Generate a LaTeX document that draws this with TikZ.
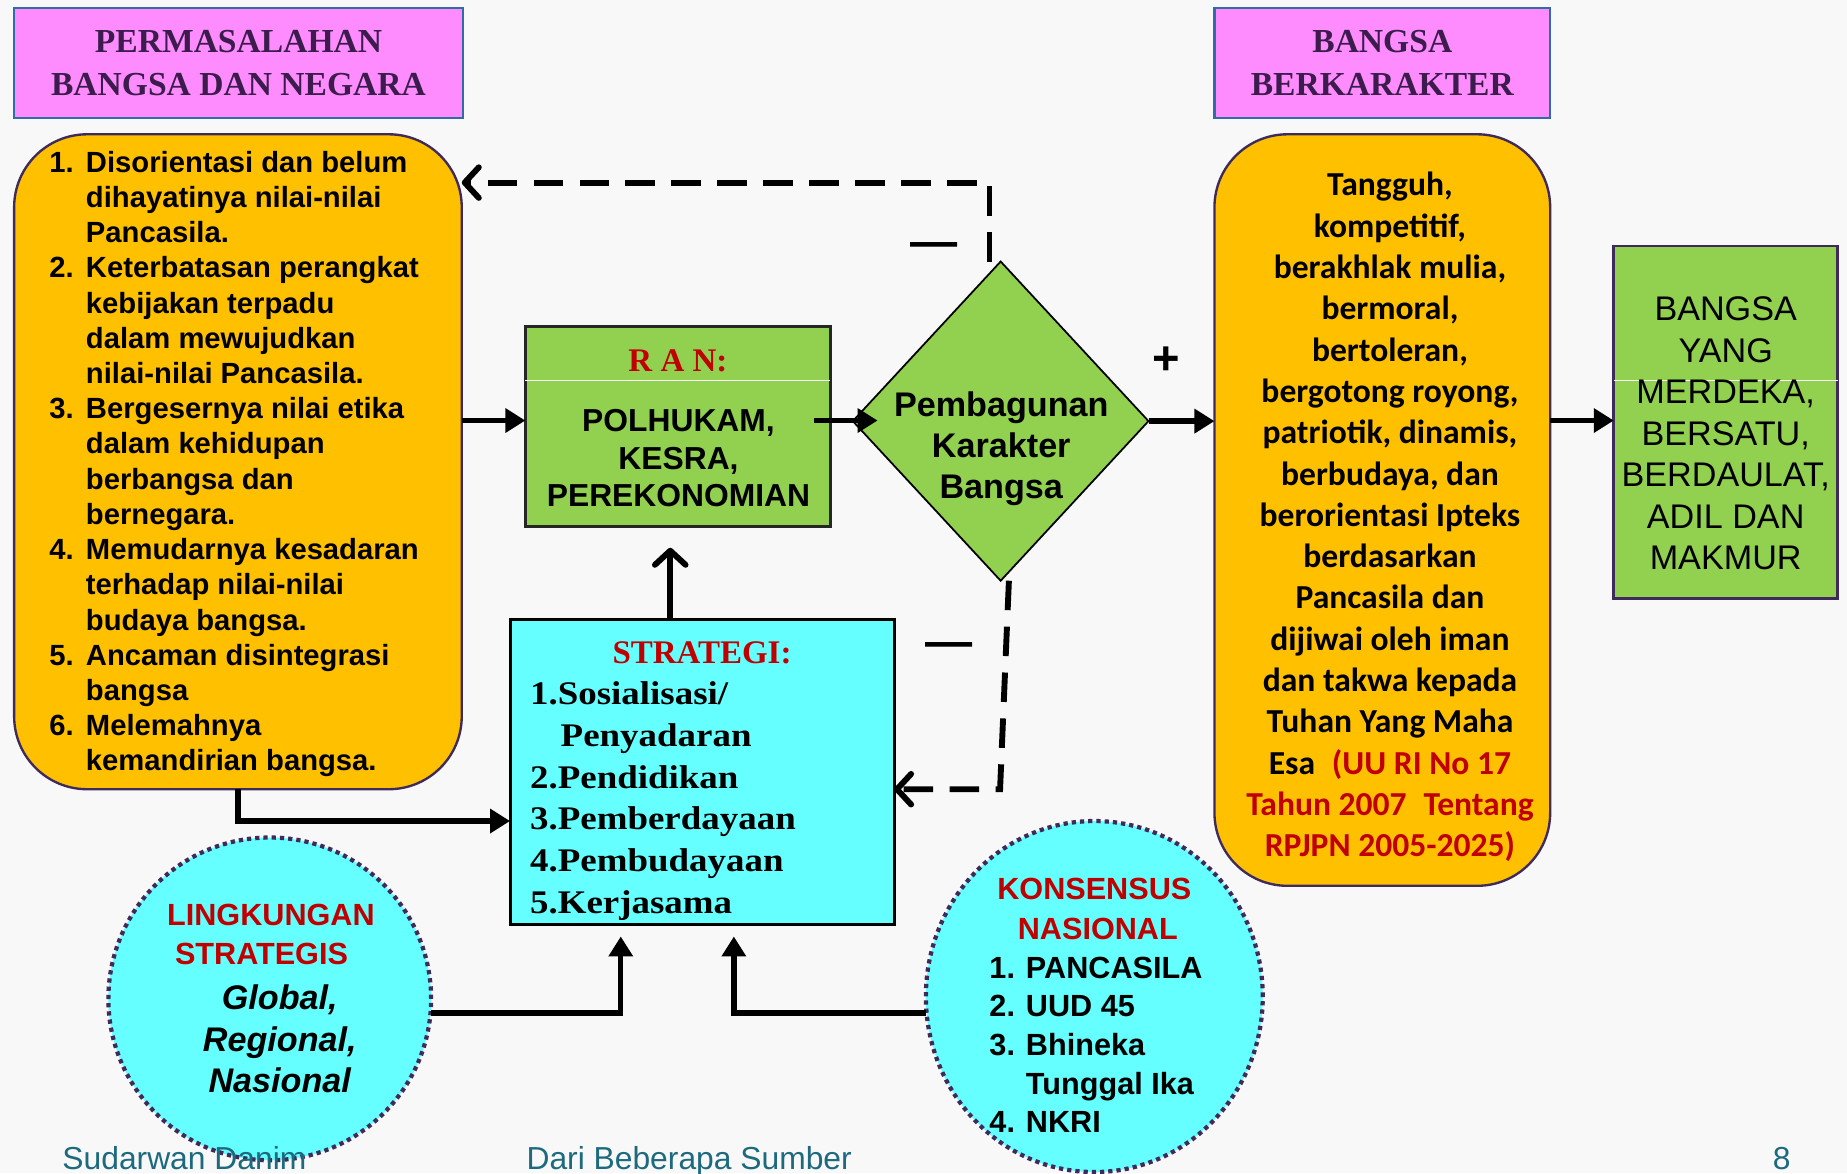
\documentclass[tikz,border=0pt]{standalone}
\usepackage{fontspec}
\setmainfont{Liberation Serif}
\setsansfont{Liberation Sans}
\newfontfamily\calib{Carlito}
\newfontfamily\serifwide[FakeStretch=1.12]{Liberation Serif}
\usetikzlibrary{arrows.meta,shapes.geometric,calc}

\definecolor{pagebg}{HTML}{F8F8F8}
\definecolor{pinkfill}{HTML}{FF8CFF}
\definecolor{pinkedge}{HTML}{2F6EA5}
\definecolor{titletext}{HTML}{3B1C4C}
\definecolor{orangefill}{HTML}{FFC000}
\definecolor{purpleedge}{HTML}{3F2B5B}
\definecolor{greenfill}{HTML}{92D050}
\definecolor{cyanfill}{HTML}{66FFFF}
\definecolor{redtext}{HTML}{C00000}
\definecolor{footertext}{HTML}{1D6A7E}

\newcommand\numitem[1]{\makebox[31pt][l]{#1}}
\newcommand\contline{\hspace*{31pt}}

\begin{document}
\begin{tikzpicture}[x=1pt,y=-1pt,
  every node/.style={inner sep=0pt,outer sep=0pt},
  titlebox/.style={draw=pinkedge,line width=2pt,fill=pinkfill,text=titletext,
    font=\bfseries\fontsize{28.5}{37}\selectfont,align=center},
  roundbox/.style={draw=purpleedge,line width=2pt,fill=orangefill,rounded corners=62pt},
  greenbox/.style={fill=greenfill,line width=2.2pt},
  dotring/.style={draw=purpleedge,fill=cyanfill,line width=3.6pt,dash pattern=on 3.6pt off 3.4pt},
  flow/.style={line width=4.5pt,-{Triangle[length=17pt,width=20pt]}},
  back/.style={line width=5pt,dash pattern=on 25pt off 14pt,
    -{Straight Barb[length=12pt,width=26pt,round]}},
  upbarb/.style={line width=5pt,-{Straight Barb[length=12pt,width=26pt,round]}},
  sign/.style={font=\sffamily\bfseries\fontsize{40}{40}\selectfont},
  redhead/.style={text=redtext,font=\bfseries\fontsize{28}{34}\selectfont},
  footer/.style={text=footertext,font=\sffamily\fontsize{27}{30}\selectfont,anchor=base west}
]
\useasboundingbox (0,0) rectangle (1568,996);
\fill[pagebg] (0,0) rectangle (1568,996);

% helper levels for the connectors
\coordinate (y155) at (0,155);
\coordinate (y357) at (0,357);
\coordinate (y670) at (0,670);
\coordinate (y697) at (0,697);
\coordinate (y860) at (0,860);
\coordinate (x527) at (527,0);
\coordinate (x623) at (623,0);
\coordinate (x840) at (840,0);
\coordinate (x569) at (569,0);

% headings
\node[titlebox,minimum width=381pt,minimum height=93pt] (probtitle) at (202.5,53.5)
  {PERMASALAHAN\\BANGSA DAN NEGARA};
\node[titlebox,minimum width=285pt,minimum height=93pt] (kartitle) at (1173.5,53.5)
  {BANGSA\\BERKARAKTER};

% problems
\node[roundbox,minimum width=380pt,minimum height=556pt] (probbox) at (202,392) {};
\node[anchor=west,align=left,font=\sffamily\bfseries\fontsize{24.8}{29.9}\selectfont]
  (problist) at (42,394) {%
  \numitem{1.}Disorientasi dan belum\\
  \contline dihayatinya nilai-nilai\\
  \contline Pancasila.\\
  \numitem{2.}Keterbatasan perangkat\\
  \contline kebijakan terpadu\\
  \contline dalam mewujudkan\\
  \contline nilai-nilai Pancasila.\\
  \numitem{3.}Bergesernya nilai etika\\
  \contline dalam kehidupan\\
  \contline berbangsa dan\\
  \contline bernegara.\\
  \numitem{4.}Memudarnya kesadaran\\
  \contline terhadap nilai-nilai\\
  \contline budaya bangsa.\\
  \numitem{5.}Ancaman disintegrasi\\
  \contline bangsa\\
  \numitem{6.}Melemahnya\\
  \contline kemandirian bangsa.};

% action plan
\node[greenbox,draw=black!85,minimum width=259pt,minimum height=170pt] (ran) at (575.5,362) {};
\draw[white,line width=1pt] (ran.west |- 0,323) -- (ran.east |- 0,323);
\node[redhead] (rantitle) at (575.5,306) {R A N:};
\node[align=center,font=\sffamily\bfseries\fontsize{27}{32}\selectfont] (rantext) at (576,389)
  {POLHUKAM,\\KESRA,\\PEREKONOMIAN};

% character building
\node[diamond,draw=black,line width=1.5pt,fill=greenfill,minimum width=251pt,minimum height=271pt]
  (pkb) at (849.5,357.5) {};
\node[align=center,font=\sffamily\bfseries\fontsize{29}{35}\selectfont] (pkbtext) at (850,381)
  {Pembagunan\\Karakter\\Bangsa};

% character of the nation
\node[roundbox,minimum width=285pt,minimum height=638pt] (karbox) at (1173.5,433) {};
\node[align=center,font=\calib\bfseries\fontsize{28.5}{35.06}\selectfont] (kartext) at (1180,439)
  {Tangguh,\\kompetitif,\\berakhlak mulia,\\bermoral,\\bertoleran,\\bergotong royong,\\
   patriotik, dinamis,\\berbudaya, dan\\berorientasi Ipteks\\berdasarkan\\Pancasila dan\\
   dijiwai oleh iman\\dan takwa kepada\\Tuhan Yang Maha\\
   Esa\hspace{0.5em}{\color{redtext}(UU RI No 17}\\
   {\color{redtext}Tahun 2007\hspace{0.5em}Tentang}\\
   {\color{redtext}RPJPN 2005-2025)}};

% goal
\node[greenbox,draw=purpleedge,minimum width=190pt,minimum height=299pt] (goal) at (1465,358.5) {};
\draw[white,line width=1pt] (goal.west |- 0,323) -- (goal.east |- 0,323);
\node[align=center,font=\sffamily\fontsize{29}{35.3}\selectfont] (goaltext) at (1465,368)
  {BANGSA\\YANG\\MERDEKA,\\BERSATU,\\BERDAULAT,\\ADIL DAN\\MAKMUR};

% strategy
\node[draw=black,line width=2.5pt,fill=cyanfill,minimum width=326pt,minimum height=259pt]
  (strat) at (596,655.5) {};
\node[redhead] (strattitle) at (596,554) {STRATEGI:};
\node[anchor=west,align=left,font=\serifwide\bfseries\fontsize{28}{35.4}\selectfont]
  (stratlist) at (450,680)
  {1.Sosialisasi/\\\hspace*{26pt}Penyadaran\\2.Pendidikan\\3.Pemberdayaan\\4.Pembudayaan\\5.Kerjasama};

% strategic environment
\node[circle,dotring,minimum size=274pt] (ling) at (229,848) {};
\node[align=center,text=redtext,font=\sffamily\bfseries\fontsize{26}{33}\selectfont]
  (lingtitle) at (230,793) {LINGKUNGAN\\STRATEGIS\hspace*{16pt}};
\node[align=center,font=\sffamily\bfseries\itshape\fontsize{29}{35}\selectfont]
  (lingtext) at (237.5,882) {Global,\\Regional,\\Nasional};

% national consensus
\node[ellipse,dotring,minimum width=286pt,minimum height=298pt] (kons) at (929,846) {};
\node[align=center,text=redtext,font=\sffamily\bfseries\fontsize{26}{34}\selectfont]
  (konstitle) at (929,772) {KONSENSUS\\\hspace*{6pt}NASIONAL};
\node[anchor=west,align=left,font=\sffamily\bfseries\fontsize{26}{32.75}\selectfont]
  (konslist) at (840,887)
  {\numitem{1.}PANCASILA\\\numitem{2.}UUD 45\\\numitem{3.}Bhineka\\\contline Tunggal Ika\\\numitem{4.}NKRI};

% main flow
\draw[flow] (probbox.east |- y357) -- (ran.west |- y357);
\draw[flow] ([xshift=-14pt]ran.east |- y357) -- ([xshift=21pt]pkb.west |- y357);
\draw[flow] (pkb.east) -- (karbox.west |- pkb.east);
\draw[flow] (karbox.east |- y357) -- (goal.west |- y357);
\draw[flow] (probbox.south) |- (strat.west |- y697);
\draw[flow,shorten >=10pt] (ling.east |- y860) -| (strat.south -| x527);
\draw[flow,shorten >=10pt] (kons.west |- y860) -| (strat.south -| x623);
\draw[upbarb,shorten >=18pt] (strat.north -| x569) -- (ran.south -| x569);

% feedback loops
\draw[back] (pkb.north -| x840) -- (x840 |- y155) -- (probbox.east |- y155);
\draw[back] ([xshift=7pt]pkb.south) -- (849,670) -- (strat.east |- y670);
\node[sign] (minusa) at (793,212) {---};
\node[sign] (minusb) at (806,552) {---};
\node[sign] (plus) at (990,306) {+};

% footer
\node[footer] (author) at (53,993) {Sudarwan Danim};
\node[footer] (source) at (447,993) {Dari Beberapa Sumber};
\node[footer] (page) at (1505,993) {8};
\end{tikzpicture}
\end{document}
